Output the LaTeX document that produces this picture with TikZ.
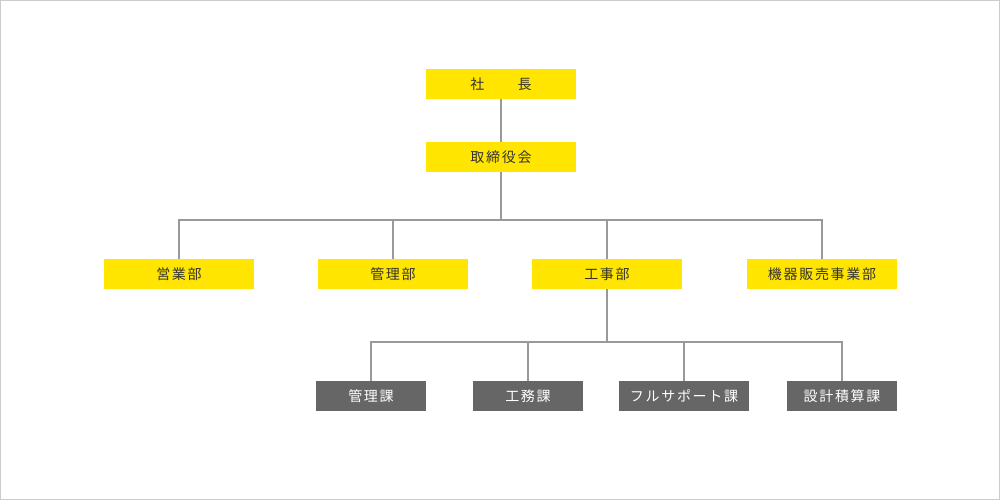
\documentclass[tikz,border=0pt]{standalone}
\usepackage{fontspec}
\newfontfamily\jpfont[LetterSpace=12]{Noto Sans CJK JP}
\definecolor{yel}{HTML}{FFE500}
\definecolor{dgray}{HTML}{666666}
\definecolor{lgray}{HTML}{999999}
\definecolor{frame}{HTML}{CCCCCC}
\definecolor{txt}{HTML}{333333}
\begin{document}
\begin{tikzpicture}[x=1pt,y=-1pt,
  ybox/.style={fill=yel,minimum width=150pt,minimum height=30pt,inner sep=0pt,font=\jpfont\fontsize{14}{14}\selectfont,text=txt},
  gbox/.style={fill=dgray,minimum height=30pt,inner sep=0pt,font=\jpfont\fontsize{14}{14}\selectfont,text=white},
  conn/.style={draw=lgray,line width=2pt}]
\useasboundingbox (0,0) rectangle (1000,500);
\draw[frame,line width=1pt] (0.5,0.5) rectangle (999.5,499.5);
\node[ybox] (pres) at (501,84) {社　　長};
\node[ybox] (board) at (501,157) {取締役会};
\node[ybox] (sales) at (179,274) {営業部};
\node[ybox] (admin) at (393,274) {管理部};
\node[ybox] (works) at (607,274) {工事部};
\node[ybox] (equip) at (822,274) {機器販売事業部};
\node[gbox,minimum width=110pt] (kanri) at (371,396) {管理課};
\node[gbox,minimum width=110pt] (koumu) at (528,396) {工務課};
\node[gbox,minimum width=130pt] (full) at (684,396) {フルサポート課};
\node[gbox,minimum width=110pt] (sekkei) at (842,396) {設計積算課};
\coordinate (h1) at (501,220);
\coordinate (h2) at (607,342);
\draw[conn] (pres.south) -- (board.north);
\draw[conn] (board.south) -- (h1);
\draw[conn] (sales.north) |- (h1) -| (equip.north);
\draw[conn] (admin.north) -- (admin.north |- h1);
\draw[conn] (works.north) -- (works.north |- h1);
\draw[conn] (works.south) -- (h2);
\draw[conn] (kanri.north) |- (h2) -| (sekkei.north);
\draw[conn] (koumu.north) -- (koumu.north |- h2);
\draw[conn] (full.north) -- (full.north |- h2);
\end{tikzpicture}
\end{document}
